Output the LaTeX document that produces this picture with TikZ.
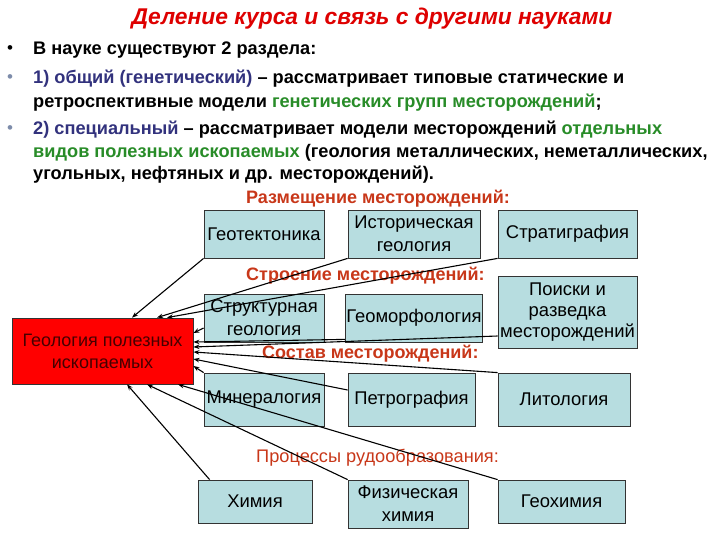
\documentclass[tikz,border=0pt]{standalone}
\usepackage{fontspec}
\setmainfont{Liberation Sans}
\usetikzlibrary{arrows.meta, positioning}

\definecolor{boxfill}{RGB}{183,221,224}
\definecolor{titlered}{RGB}{222,0,0}
\definecolor{partred}{RGB}{200,55,25}
\definecolor{darkblue}{RGB}{50,50,125}
\definecolor{darkgreen}{RGB}{40,140,40}
\definecolor{bulletgray}{RGB}{125,140,170}
\definecolor{maroon}{RGB}{70,0,0}

\begin{document}
\begin{tikzpicture}[x=1pt,y=-1pt]

\tikzset{box/.style = {draw=black!80, fill=boxfill, line width=0.8pt, inner sep=1pt, align=center, font=\fontsize{18.4}{23}\selectfont}}
\tikzset{link/.style = {-{Stealth[length=6pt,width=4.5pt]}, line width=1.1pt}}
\tikzset{part/.style = {anchor=west, inner sep=0pt, font=\fontsize{18}{20}\selectfont\bfseries, text=partred}}
\tikzset{txtline/.style = {anchor=west, inner sep=0pt, font=\fontsize{18.2}{20}\selectfont\bfseries}}
\tikzset{dot/.style = {inner sep=0pt, font=\fontsize{17}{20}\selectfont}}

\useasboundingbox (0,0) rectangle (720,540);

% title and text
\node[font=\fontsize{22.8}{26}\selectfont\bfseries\itshape, text=titlered] (title) at (372,19) {Деление курса и связь с другими науками};
\node[dot] (b1) at (10,50) {•};
\node[dot, text=bulletgray] (b2) at (10,79) {•};
\node[dot, text=bulletgray] (b3) at (10,130) {•};
\node[txtline] (l1) at (33,50) {В науке существуют 2 раздела:};
\node[txtline] (l2) at (33,79) {\textcolor{darkblue}{1) общий (генетический)} – рассматривает типовые статические и};
\node[txtline] (l3) at (33,103) {ретроспективные модели \textcolor{darkgreen}{генетических групп месторождений};};
\node[txtline] (l4) at (33,130) {\textcolor{darkblue}{2) специальный} – рассматривает модели месторождений \textcolor{darkgreen}{отдельных}};
\node[txtline] (l5) at (33,153) {\textcolor{darkgreen}{видов полезных ископаемых} (геология металлических, неметаллических,};
\node[txtline] (l6) at (33,175) {угольных, нефтяных и др. месторождений).};

% section labels
\node[part] (p1) at (246,199) {Размещение месторождений:};
\node[part] (p2) at (246,276) {Строение месторождений:};
\node[part] (p3) at (262,354) {Состав месторождений:};
\node[part, font=\fontsize{18.2}{20}\selectfont] (p4) at (256,458) {Процессы рудообразования:};

% boxes
\node[box, minimum width=120pt, minimum height=48pt] (geotek) at (264,234) {Геотектоника};
\node[box, minimum width=132pt, minimum height=48pt] (histgeol) at (414,234) {Историческая\\геология};
\node[box, minimum width=139pt, minimum height=72pt, font=\fontsize{18.4}{21}\selectfont] (poiski) at (567.5,312) {Поиски и\\разведка\\месторождений};
\node[box, minimum width=139pt, minimum height=48pt] (strat) at (567.5,234) {Стратиграфия};
\node[box, minimum width=120pt, minimum height=48pt] (struct) at (264,318) {Структурная\\геология};
\node[box, minimum width=132pt, minimum height=48pt] (geomorph) at (414,318) {Геоморфология};
\node[box, minimum width=120pt, minimum height=53pt] (miner) at (264,399.5) {Минералогия};
\node[box, minimum width=127pt, minimum height=53pt] (petro) at (411.5,399.5) {Петрография};
\node[box, minimum width=132pt, minimum height=53pt] (litol) at (564,399.5) {Литология};
\node[box, minimum width=114pt, minimum height=43pt] (chem) at (255,501.5) {Химия};
\node[box, minimum width=120pt, minimum height=48pt] (fizch) at (408,504) {Физическая\\химия};
\node[box, minimum width=127pt, minimum height=43pt] (geochem) at (561.5,501.5) {Геохимия};
\node[box, fill=red, text=maroon, minimum width=181pt, minimum height=66pt, font=\fontsize{18}{22}\selectfont] (geol) at (102.5,351) {Геология полезных\\ископаемых};

% links
\draw[link] (geotek.south west) -- ([xshift=29.5pt]geol.north);
\draw[link] (histgeol.south west) -- ([xshift=54.5pt]geol.north);
\draw[link] (strat.south west) -- ([xshift=64.5pt]geol.north);
\draw[link] ([yshift=-10pt]struct.west) -- ([yshift=18pt]geol.east);
\draw[link] ([yshift=3pt]geomorph.south west) -- ([yshift=9pt]geol.east);
\draw[link] ([yshift=-24pt]poiski.west) -- ([yshift=4pt]geol.east);
\draw[link] (litol.north west) -- ([yshift=-1pt]geol.east);
\draw[link] ([yshift=9.5pt]petro.west) -- ([yshift=-8pt]geol.east);
\draw[link] (miner.north west) -- ([yshift=-15pt]geol.east);
\draw[link] (geochem.north west) -- ([xshift=75.5pt]geol.south);
\draw[link] (fizch.north west) -- ([xshift=44.5pt]geol.south);
\draw[link] ([xshift=12pt]chem.north west) -- ([xshift=24.5pt]geol.south);

\end{tikzpicture}
\end{document}
